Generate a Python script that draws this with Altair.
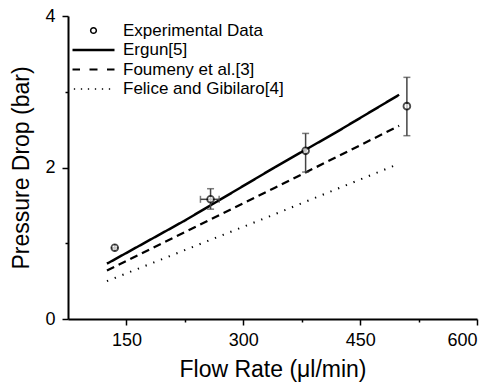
import altair as alt
import pandas as pd

# Experimental data
exp_x = [135, 258, 380, 510]
exp_y = [0.94, 1.58, 2.22, 2.81]
exp_ylo = [0.94, 1.45, 1.94, 2.42]
exp_yhi = [0.94, 1.72, 2.45, 3.19]
exp_xlo = [135, 245, 380, 510]
exp_xhi = [135, 269, 380, 510]

# Model curves
ergun_x = [125, 225, 340, 420, 500]
ergun_y = [0.73, 1.30, 2.00, 2.47, 2.96]
foumeny_x = [125, 340, 500]
foumeny_y = [0.64, 1.73, 2.55]
felice_x = [125, 330, 495]
felice_y = [0.50, 1.34, 2.03]

series_names = ["Experimental Data", "Ergun[5]", "Foumeny et al.[3]", "Felice and Gibilaro[4]"]
x_ticks = [150, 225, 300, 375, 450, 525, 600]
y_ticks = [0, 1, 2, 3, 4]

FONT = "Liberation Sans"

exp_df = pd.DataFrame({"x": exp_x, "y": exp_y, "ylo": exp_ylo, "yhi": exp_yhi,
                       "xlo": exp_xlo, "xhi": exp_xhi})
lines_df = pd.concat([
    pd.DataFrame({"x": ergun_x, "y": ergun_y, "series": series_names[1]}),
    pd.DataFrame({"x": foumeny_x, "y": foumeny_y, "series": series_names[2]}),
    pd.DataFrame({"x": felice_x, "y": felice_y, "series": series_names[3]}),
])
legend_df = pd.DataFrame({"series": series_names})

xscale = alt.Scale(domain=[75, 600], nice=False, zero=False)
yscale = alt.Scale(domain=[0, 4], nice=False)

xaxis = alt.Axis(values=x_ticks, title="Flow Rate (\u03bcl/min)", format="d",
                 labelExpr="datum.value % 150 == 0 ? datum.label : ''",
                 tickSize={"condition": {"test": "datum.value % 150 == 0", "value": 6}, "value": 3},
                 grid=False, labelPadding=6, titlePadding=9)
yaxis = alt.Axis(values=y_ticks, title="Pressure Drop (bar)", format="d",
                 labelExpr="datum.value % 2 == 0 ? datum.label : ''",
                 tickSize={"condition": {"test": "datum.value % 2 == 0", "value": 6}, "value": 3},
                 grid=False, labelPadding=7, titlePadding=11)

base_x = alt.X("x:Q", scale=xscale, axis=xaxis)
base_y = alt.Y("y:Q", scale=yscale, axis=yaxis)

dash_map = alt.StrokeDash("series:N",
                          scale=alt.Scale(domain=series_names[1:],
                                          range=[[1, 0], [8, 5], [1.3, 7]]),
                          legend=None)
width_map = alt.StrokeWidth("series:N",
                            scale=alt.Scale(domain=series_names[1:], range=[2.5, 2, 1.6]),
                            legend=None)

lines = alt.Chart(lines_df).mark_line(color="black").encode(
    x=base_x, y=base_y, strokeDash=dash_map, strokeWidth=width_map,
    detail="series:N")

vbars = alt.Chart(exp_df).mark_rule(color="#444", strokeWidth=1.5).encode(
    x="x:Q", y="ylo:Q", y2="yhi:Q")
vcaps_lo = alt.Chart(exp_df).mark_tick(color="#444", thickness=1.5, size=7, orient="horizontal").encode(
    x="x:Q", y="ylo:Q")
vcaps_hi = alt.Chart(exp_df).mark_tick(color="#444", thickness=1.5, size=7, orient="horizontal").encode(
    x="x:Q", y="yhi:Q")
hbars = alt.Chart(exp_df).mark_rule(color="#444", strokeWidth=1.5).encode(
    x="xlo:Q", x2="xhi:Q", y="y:Q")
hcaps_lo = alt.Chart(exp_df).mark_tick(color="#444", thickness=1.5, size=7, orient="vertical").encode(
    x="xlo:Q", y="y:Q")
hcaps_hi = alt.Chart(exp_df).mark_tick(color="#444", thickness=1.5, size=7, orient="vertical").encode(
    x="xhi:Q", y="y:Q")

points = alt.Chart(exp_df).mark_point(shape="circle", filled=True, fill="white",
                                      stroke="black", strokeWidth=1.8, size=46).encode(
    x="x:Q", y="y:Q")

ring = ("M-0.72,0A0.72,0.72 0 1,1 0.72,0A0.72,0.72 0 1,1 -0.72,0Z"
        "M-0.42,0A0.42,0.42 0 1,0 0.42,0A0.42,0.42 0 1,0 -0.42,0Z")
solid = "M-4.2,-0.25H4.2V0.25H-4.2Z"
dashed = ("M-4.2,-0.2H-2.7V0.2H-4.2Z"
          "M-0.8,-0.2H0.8V0.2H-0.8Z"
          "M2.7,-0.2H4.2V0.2H2.7Z")
dotted = "".join(f"M{c-0.13:.2f},-0.13H{c+0.13:.2f}V0.13H{c-0.13:.2f}Z"
                 for c in [-3.8, -2.4, -1.0, 0.4, 1.8, 3.2])

legend_layer = alt.Chart(legend_df).mark_point(filled=True, opacity=0, color="black").encode(
    x=alt.value(0), y=alt.value(0),
    shape=alt.Shape("series:N",
                    scale=alt.Scale(domain=series_names, range=[ring, solid, dashed, dotted]),
                    legend=alt.Legend(title=None, orient="none", legendX=17, legendY=6,
                                      padding=0, symbolSize=100, symbolFillColor="black",
                                      symbolStrokeColor="black",
                                      symbolStrokeWidth=0, symbolOpacity=1,
                                      labelFont=FONT, labelFontSize=17, labelColor="black",
                                      labelOffset=21, rowPadding=1.5, labelLimit=300)))

chart = alt.layer(lines, vbars, vcaps_lo, vcaps_hi, hbars, hcaps_lo, hcaps_hi, points,
                  legend_layer).properties(
    width=409, height=303,
    autosize=alt.AutoSizeParams(type="none"),
    padding={"left": 68, "top": 16, "right": 25, "bottom": 68},
    background="white",
).configure_view(stroke=None).configure_axis(
    labelFont=FONT, titleFont=FONT, labelFontSize=18, titleFontSize=23,
    titleFontWeight="normal", labelColor="black", titleColor="black",
    domainColor="black", domainWidth=2, tickColor="black", tickWidth=1.5,
)

chart.save("out.html", embed_options={"renderer": "svg", "actions": False})
